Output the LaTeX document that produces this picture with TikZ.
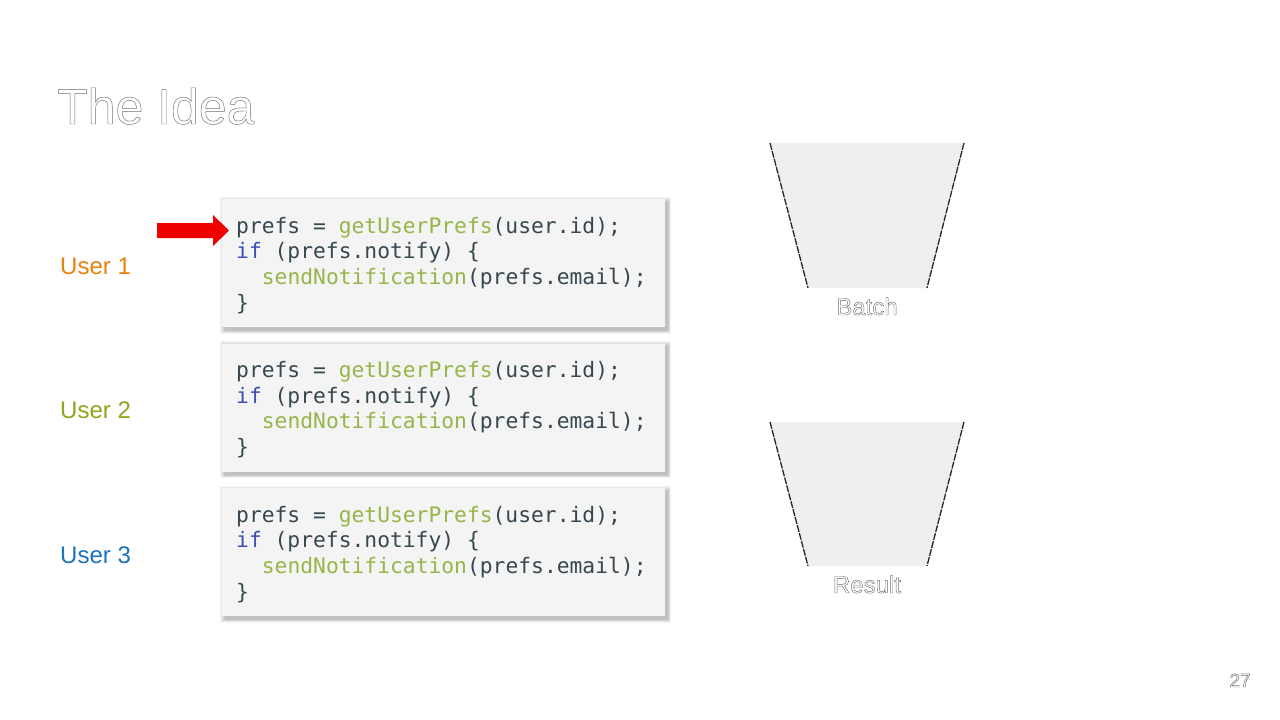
\documentclass[tikz,border=0pt]{standalone}
\usepackage{fontspec}
\setmainfont{Liberation Sans}
\newfontfamily\codefont{DejaVu Sans Mono}[WordSpace={1,0,0}]
\definecolor{codetxt}{HTML}{37474F}
\definecolor{codegreen}{HTML}{97B548}
\definecolor{codeblue}{HTML}{3A4FB5}
\definecolor{boxfill}{HTML}{F4F4F4}
\definecolor{trapfill}{HTML}{EFEFEF}
\definecolor{uone}{HTML}{E8820C}
\definecolor{utwo}{HTML}{8FA51C}
\definecolor{uthree}{HTML}{1A73C0}
\definecolor{outlinegray}{HTML}{707070}
\definecolor{arrowred}{HTML}{EE0000}
\newcommand{\outl}[1]{\special{pdf:literal direct 1 Tr 0.45 w}#1\special{pdf:literal direct 0 Tr}}
\newcommand{\gr}[1]{\textcolor{codegreen}{#1}}
\newcommand{\bl}[1]{\textcolor{codeblue}{#1}}
\tikzset{
  codebox/.style={fill=boxfill, draw=none},
  shadowlayer/.style={fill=black, opacity=0.045, draw=none},
  codeline/.style={anchor=base west, inner sep=0pt, text=codetxt, font=\codefont\fontsize{21.3}{25.7}\selectfont},
  userlbl/.style={anchor=base west, inner sep=0pt, font=\fontsize{24}{28}\selectfont},
  trap/.style={fill=trapfill, draw=none},
  trapedge/.style={draw=black!85, line width=1.3pt, dash pattern=on 7pt off 1.2pt},
  outtxt/.style={inner sep=0pt, text=outlinegray},
}
\begin{document}
\begin{tikzpicture}[x=1pt,y=-1pt]
\useasboundingbox (0,0) rectangle (1280,720);
\fill[white] (0,0) rectangle (1280,720);
% title
\node[outtxt, anchor=base west, font=\fontsize{50}{56}\selectfont] (title) at (57,124) {\outl{The Idea}};
% code boxes
\foreach \i/\dy/\ucol in {1/0/uone, 2/144.5/utwo, 3/289/uthree} {
  \foreach \k in {0,1,...,5} {
    \path[shadowlayer] (222+2.5-\k,199+\dy+2.5-\k) rectangle (665+3+\k*0.6,327+\dy+3.5+\k*0.6);
  }
  \path[codebox] (222,199+\dy) rectangle (665,327+\dy);
  \node[codeline] (l\i a) at (236,233+\dy) {prefs = \gr{getUserPrefs}(user.id);};
  \node[codeline] (l\i b) at (236,258.7+\dy) {\bl{if} (prefs.notify) \{};
  \node[codeline] (l\i c) at (261.7,284.4+\dy) {\gr{sendNotification}(prefs.email);};
  \node[codeline] (l\i d) at (236,310.1+\dy) {\}};
  \node[userlbl, text=\ucol] (u\i) at (60,274+\dy) {User \i};
}
% red arrow
\fill[arrowred] (157,223) -- (213,223) -- (213,215) -- (229,230.5) -- (213,246) -- (213,238) -- (157,238) -- cycle;
% trapezoids
\foreach \name/\ty/\by/\lab/\ly in {batch/143/288/Batch/315, result/422/566/Result/593} {
  \fill[trap] (770,\ty) -- (964,\ty) -- (927,\by) -- (808,\by) -- cycle;
  \draw[trapedge] (770,\ty) -- (808,\by);
  \draw[trapedge] (964,\ty) -- (927,\by);
  \node[outtxt, anchor=base, font=\fontsize{24}{28}\selectfont] (\name) at (867,\ly) {\outl{\lab}};
}
% page number
\node[outtxt, anchor=base, font=\fontsize{19}{22}\selectfont] (pagenum) at (1240,687) {\outl{27}};
\end{tikzpicture}
\end{document}
